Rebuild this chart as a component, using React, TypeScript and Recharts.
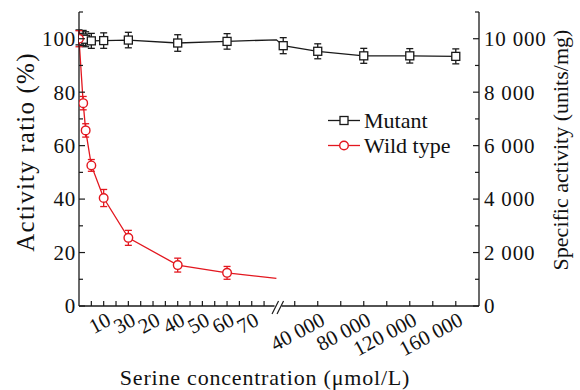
import React from 'react';
import { LineChart, Line, XAxis, YAxis, ErrorBar, ReferenceDot } from 'recharts';

const FONT = '"Liberation Serif", "Times New Roman", serif';
const RED = '#e3171f';
const BLACK = '#1a1a1a';

// Serine concentration (µmol/L)
const wildConc = [0, 1.7, 2.7, 5, 10, 20, 40, 60, 80];
const wildValue = [100, 75.9, 65.7, 52.6, 40.4, 25.5, 15.3, 12.4, 10.3];
const wildErr: (number | null)[] = [3, 2.5, 2.5, 2.2, 3.2, 2.8, 2.6, 2.4, null];

const mutantConc = [0, 1.7, 2.7, 5, 10, 20, 40, 60, 80, 10000, 40000, 80000, 120000, 160000];
const mutantValue = [100.5, 100.3, 99.8, 99.2, 99.3, 99.5, 98.4, 99, 99.6, 97.4, 95.3, 93.6, 93.6, 93.4];
const mutantErr: (number | null)[] = [2.8, 2.8, 2.8, 2.8, 2.9, 2.9, 3.1, 2.9, null, 3, 2.8, 2.8, 2.7, 2.8];

// 100 % activity ratio corresponds to 10 000 units/mg
const SPECIFIC_AT_100 = 10000;

const lowTicks = [5, 10, 15, 20, 25, 30, 35, 40, 45, 50, 55, 60, 65, 70, 75];
const lowLabelledTicks = [10, 20, 30, 40, 50, 60, 70];
const lowTickLabels = ['10', '30', '20', '40', '50', '60', '70'];
const highTicks = [20000, 40000, 60000, 80000, 100000, 120000, 140000, 160000];
const highLabelledTicks = [40000, 80000, 120000, 160000];
const highTickLabels = ['40 000', '80 000', '120 000', '160 000'];

const leftTicks = [0, 10, 20, 30, 40, 50, 60, 70, 80, 90, 100, 110];
const rightTicks = [0, 1000, 2000, 3000, 4000, 5000, 6000, 7000, 8000, 9000, 10000, 11000];

// broken axis: linear low segment, compressed high segment
const LOW_MAX = 80;
const HIGH_ORIGIN = 78.1;
const HIGH_PER_UNIT = 2145;
const X_MAX = 162.1;
const BREAK_POS = 80.66;
const toPos = (c: number) => (c <= LOW_MAX ? c : HIGH_ORIGIN + c / HIGH_PER_UNIT);

const wildData = wildConc.map((c, i) => ({ pos: toPos(c), value: wildValue[i], err: wildErr[i] ?? undefined, marker: wildErr[i] != null }));
const mutantData = mutantConc.map((c, i) => ({ pos: toPos(c), value: mutantValue[i], err: mutantErr[i] ?? undefined, marker: mutantErr[i] != null }));
const mutantSpecific = mutantConc.map((c, i) => ({ pos: toPos(c), specific: (mutantValue[i] / 100) * SPECIFIC_AT_100 }));

const xTicks = [...lowTicks.map(toPos), ...highTicks.map(toPos)];
const xLabelMap = new Map<string, string>();
lowLabelledTicks.forEach((c, i) => xLabelMap.set(toPos(c).toFixed(3), lowTickLabels[i]));
highLabelledTicks.forEach((c, i) => xLabelMap.set(toPos(c).toFixed(3), highTickLabels[i]));

const fmtThousands = (v: number) => String(v).replace(/\B(?=(\d{3})+(?!\d))/g, ' ');

const XTick = (props: any) => {
  const { x, y, payload } = props;
  const label = xLabelMap.get(Number(payload.value).toFixed(3)) ?? '';
  const px = x + 8.6;
  const py = y + 18.4;
  return (
    <g>
      <line x1={x} y1={y} x2={x} y2={y - 5} stroke={BLACK} strokeWidth={1.2} />
      {label ? (
        <text x={px} y={py} textAnchor="end" transform={`rotate(-28 ${px} ${py})`} fontSize={21} fontFamily={FONT} fill="#111">
          {label}
        </text>
      ) : null}
    </g>
  );
};

const LeftTick = (props: any) => {
  const { x, y, payload } = props;
  const v = payload.value as number;
  const major = v % 20 === 0;
  const ax = x + 3;
  return (
    <g>
      <line x1={ax} y1={y} x2={ax + (major ? 6 : 4)} y2={y} stroke={BLACK} strokeWidth={1.2} />
      {major && v <= 100 ? (
        <text x={x} y={y} dy="0.35em" textAnchor="end" fontSize={21} fontFamily={FONT} fill="#111" letterSpacing={0.8}>
          {v}
        </text>
      ) : null}
    </g>
  );
};

const RightTick = (props: any) => {
  const { x, y, payload } = props;
  const v = payload.value as number;
  const major = v % 2000 === 0;
  const ax = x - 5;
  return (
    <g>
      <line x1={ax} y1={y} x2={ax - (major ? 6 : 4)} y2={y} stroke={BLACK} strokeWidth={1.2} />
      {major && v <= 10000 ? (
        <text x={x} y={y} dy="0.35em" textAnchor="start" fontSize={21} fontFamily={FONT} fill="#111" letterSpacing={0.8}>
          {fmtThousands(v)}
        </text>
      ) : null}
    </g>
  );
};

const SquareDot = (props: any) => {
  const { cx, cy, payload, index } = props;
  if (!payload || !payload.marker) return <g key={`s${index}`} />;
  return <rect key={`s${index}`} x={cx - 4} y={cy - 4} width={8} height={8} fill="#fff" stroke={BLACK} strokeWidth={1.3} />;
};

const CircleDot = (props: any) => {
  const { cx, cy, payload, index } = props;
  if (!payload || !payload.marker) return <g key={`c${index}`} />;
  return <circle key={`c${index}`} cx={cx} cy={cy} r={4.3} fill="#fff" stroke={RED} strokeWidth={1.4} />;
};

const BreakMark = (props: any) => {
  const { cx, cy } = props;
  return (
    <g>
      <rect x={cx - 3.5} y={cy - 2} width={7} height={4} fill="#fff" />
      <line x1={cx - 6} y1={cy + 8} x2={cx + 0.5} y2={cy - 5} stroke={BLACK} strokeWidth={1.2} />
      <line x1={cx - 1} y1={cy + 8} x2={cx + 5.5} y2={cy - 5} stroke={BLACK} strokeWidth={1.2} />
    </g>
  );
};

const legendItems = [
  { name: 'Mutant', color: BLACK, kind: 'square' },
  { name: 'Wild type', color: RED, kind: 'circle' },
];

const LegendBox = () => (
  <div style={{ position: 'absolute', left: 326, top: 107.5, fontFamily: FONT, fontSize: 22, color: '#111' }}>
    {legendItems.map((it) => (
      <div key={it.name} style={{ display: 'flex', alignItems: 'center', height: 25 }}>
        <svg width={36} height={25} style={{ display: 'block' }}>
          <line x1={2} y1={12.5} x2={34} y2={12.5} stroke={it.color} strokeWidth={1.3} />
          {it.kind === 'square' ? (
            <rect x={14} y={8.5} width={8} height={8} fill="#fff" stroke={it.color} strokeWidth={1.3} />
          ) : (
            <circle cx={18} cy={12.5} r={4.3} fill="#fff" stroke={it.color} strokeWidth={1.4} />
          )}
        </svg>
        <span style={{ marginLeft: 2, lineHeight: '25px', whiteSpace: 'nowrap' }}>{it.name}</span>
      </div>
    ))}
  </div>
);

export default function App() {
  return (
    <div style={{ position: 'absolute', left: 0, top: 0, width: 580, height: 390, background: '#fff' }}>
      <LineChart width={580} height={390} margin={{ top: 12, right: 41, bottom: 44, left: 29 }}>
        <XAxis
          type="number"
          dataKey="pos"
          domain={[0, X_MAX]}
          ticks={xTicks}
          interval={0}
          tickSize={0}
          tickMargin={0}
          height={40}
          allowDataOverflow
          axisLine={{ stroke: BLACK, strokeWidth: 1.3 }}
          tick={<XTick />}
        />
        <YAxis
          yAxisId="left"
          type="number"
          domain={[0, 110]}
          ticks={leftTicks}
          interval={0}
          tickSize={0}
          tickMargin={3}
          width={50}
          allowDataOverflow
          axisLine={{ stroke: BLACK, strokeWidth: 1.3 }}
          tick={<LeftTick />}
        />
        <YAxis
          yAxisId="right"
          orientation="right"
          type="number"
          domain={[0, 11000]}
          ticks={rightTicks}
          interval={0}
          tickSize={0}
          tickMargin={5}
          width={60}
          allowDataOverflow
          axisLine={{ stroke: BLACK, strokeWidth: 1.3 }}
          tick={<RightTick />}
        />
        <Line
          data={mutantSpecific}
          dataKey="specific"
          yAxisId="right"
          stroke="none"
          dot={false}
          activeDot={false}
          legendType="none"
          isAnimationActive={false}
        />
        <Line
          data={mutantData}
          dataKey="value"
          yAxisId="left"
          type="linear"
          stroke={BLACK}
          strokeWidth={1.3}
          dot={SquareDot}
          isAnimationActive={false}
          name="Mutant"
        >
          <ErrorBar dataKey="err" width={3.5} stroke={BLACK} strokeWidth={1.3} direction="y" />
        </Line>
        <Line
          data={wildData}
          dataKey="value"
          yAxisId="left"
          type="linear"
          stroke={RED}
          strokeWidth={1.3}
          dot={CircleDot}
          isAnimationActive={false}
          name="Wild type"
        >
          <ErrorBar dataKey="err" width={3.5} stroke={RED} strokeWidth={1.3} direction="y" />
        </Line>
        <ReferenceDot x={BREAK_POS} y={0} yAxisId="left" ifOverflow="visible" shape={BreakMark} />
      </LineChart>
      <LegendBox />
      <svg width={580} height={390} style={{ position: 'absolute', left: 0, top: 0, pointerEvents: 'none' }}>
        <text x={265} y={385} textAnchor="middle" fontSize={22} fontFamily={FONT} fill="#111" letterSpacing={0.8}>
          Serine concentration (μmol/L)
        </text>
        <text x={34} y={152} textAnchor="middle" transform="rotate(-90 34 152)" fontSize={25} fontFamily={FONT} fill="#111" letterSpacing={1.2}>
          Activity ratio (%)
        </text>
        <text x={568} y={150} textAnchor="middle" transform="rotate(-90 568 150)" fontSize={22} fontFamily={FONT} fill="#111">
          Specific activity (units/mg)
        </text>
      </svg>
    </div>
  );
}
